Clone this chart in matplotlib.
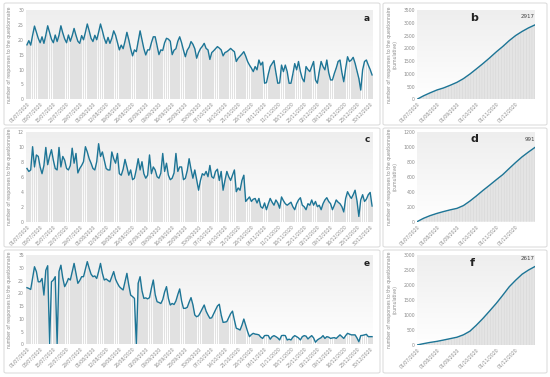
import matplotlib
matplotlib.use("Agg")
import matplotlib.pyplot as plt
import matplotlib.dates as mdates
from matplotlib.colors import LinearSegmentedColormap
from matplotlib.patches import FancyBboxPatch
import numpy as np
import pandas as pd

# daily responses, 01/07/2020 -> 31/12/2020 (one row per week)
resp_a = [
    18.3, 19.7, 18.2, 21.5, 24.6, 22.5, 20.5,
    19.0, 21.0, 18.8, 21.5, 24.7, 22.5, 20.2,
    19.0, 21.6, 19.4, 21.5, 24.7, 22.3, 20.3,
    19.0, 21.6, 19.5, 21.4, 23.8, 21.5, 19.5,
    18.8, 21.4, 20.0, 22.5, 25.3, 23.0, 20.5,
    19.4, 21.5, 20.0, 22.5, 25.3, 23.0, 20.5,
    18.8, 20.8, 18.8, 20.5, 23.0, 21.5, 19.0,
    16.6, 18.2, 17.0, 19.5, 22.5, 20.0, 17.0,
    14.6, 16.6, 16.0, 19.5, 23.0, 20.0, 17.0,
    14.9, 16.6, 16.6, 19.0, 21.0, 21.0, 18.0,
    15.0, 16.6, 16.4, 19.0, 20.5, 20.2, 19.5,
    15.0, 16.5, 17.0, 19.5, 21.0, 19.0, 16.5,
    14.3, 16.5, 17.5, 19.4, 18.5, 17.0, 13.8,
    15.7, 17.0, 17.8, 18.8, 17.1, 16.6, 13.4,
    15.7, 16.3, 17.0, 17.7, 17.2, 16.6, 14.6,
    15.7, 16.0, 16.5, 17.1, 16.5, 16.0, 12.7,
    13.8, 14.5, 15.2, 16.0, 14.5, 12.7, 11.5,
    10.5, 9.3, 11.0, 9.9, 13.2, 11.5, 12.5,
    5.4, 5.6, 8.5, 11.0, 12.0, 13.0, 9.0,
    5.4, 5.5, 11.5, 9.3, 11.5, 9.3, 5.4,
    5.4, 8.5, 12.0, 9.9, 12.7, 9.3, 7.0,
    5.9, 11.0, 10.0, 9.3, 11.0, 12.7, 6.5,
    5.4, 9.3, 12.7, 11.0, 9.9, 13.2, 9.0,
    6.5, 6.5, 8.7, 10.5, 12.7, 13.2, 9.0,
    5.9, 10.4, 14.3, 12.7, 13.2, 14.1, 12.1,
    9.5, 7.0, 3.1, 9.9, 12.7, 13.2, 11.5,
    10.0, 8.2,
]

resp_c = [
    7.1, 6.7, 6.9, 10.0, 7.3, 8.9, 8.7,
    7.3, 6.4, 7.5, 9.9, 7.6, 8.7, 9.6,
    8.2, 7.1, 6.9, 9.9, 7.3, 8.7, 8.2,
    7.1, 6.9, 7.5, 9.8, 7.8, 9.1, 6.5,
    7.1, 7.5, 8.0, 10.0, 9.3, 8.4, 7.8,
    7.1, 6.9, 8.0, 10.4, 8.7, 9.3, 8.2,
    7.1, 6.9, 6.9, 9.3, 8.4, 7.8, 9.1,
    6.4, 6.2, 7.0, 8.3, 7.3, 6.2, 6.9,
    5.6, 5.8, 7.0, 8.4, 6.9, 8.0, 6.4,
    5.8, 6.2, 8.9, 6.4, 7.3, 6.9, 6.0,
    5.8, 6.5, 9.1, 6.7, 7.8, 6.2, 5.6,
    5.8, 6.5, 9.1, 6.7, 7.3, 7.3, 5.6,
    5.8, 6.8, 8.4, 7.0, 5.8, 6.9, 5.6,
    4.2, 5.5, 6.4, 6.2, 6.7, 6.0, 7.5,
    6.0, 5.8, 6.7, 7.0, 5.5, 6.7, 4.2,
    5.5, 6.7, 6.0, 5.5, 6.2, 6.9, 4.0,
    4.5, 4.2, 5.5, 6.2, 2.7, 3.0, 3.3,
    2.7, 3.0, 3.1, 2.5, 3.1, 2.0, 1.8,
    2.5, 1.6, 2.4, 3.1, 2.6, 2.2, 2.9,
    2.5, 1.8, 3.3, 2.8, 2.4, 2.2, 2.4,
    2.6, 2.0, 1.6, 2.4, 2.9, 3.2, 2.2,
    2.0, 1.6, 2.4, 2.2, 2.9, 2.2, 2.7,
    2.0, 2.2, 1.6, 2.4, 2.9, 3.2, 2.7,
    2.4, 1.6, 2.2, 2.9, 2.6, 2.4, 2.0,
    1.3, 3.1, 4.0, 3.5, 3.1, 3.6, 4.2,
    2.8, 0.7, 2.9, 3.6, 2.7, 3.0, 3.6,
    3.9, 2.1,
]

resp_e = [
    22.2, 21.9, 21.5, 26.0, 30.4, 28.5, 24.5,
    24.5, 25.8, 19.3, 29.0, 30.8, 0.0, 24.5,
    25.2, 26.5, 0.0, 28.5, 31.0, 26.0, 22.6,
    24.0, 25.8, 25.2, 28.5, 31.7, 27.8, 23.9,
    25.0, 26.5, 26.5, 29.5, 32.4, 29.8, 27.5,
    26.5, 26.8, 25.8, 28.5, 31.7, 27.8, 25.2,
    25.6, 25.0, 24.5, 26.5, 28.5, 25.5, 23.9,
    22.6, 21.9, 21.3, 24.5, 27.8, 23.2, 19.3,
    18.7, 18.0, 0.0, 24.0, 26.5, 21.0, 18.0,
    18.2, 17.8, 18.3, 22.0, 25.2, 19.5, 16.7,
    16.4, 16.0, 17.5, 20.5, 22.6, 18.0, 15.4,
    16.0, 15.6, 17.0, 19.5, 21.7, 17.0, 14.1,
    14.1, 14.5, 16.5, 18.3, 15.5, 11.5, 10.8,
    11.2, 12.5, 14.0, 15.4, 13.0, 11.5, 10.2,
    10.4, 12.0, 13.5, 15.0, 15.7, 11.5, 8.6,
    8.7, 8.9, 10.5, 12.0, 13.0, 9.5, 6.3,
    6.0, 5.6, 7.5, 9.9, 7.5, 5.0, 3.0,
    3.8, 4.3, 4.0, 3.9, 3.7, 2.8, 2.3,
    3.4, 3.5, 3.4, 2.0, 3.0, 3.4, 3.0,
    2.5, 1.7, 3.4, 3.5, 3.4, 1.7, 2.0,
    1.7, 2.8, 3.4, 3.0, 2.5, 1.7, 3.0,
    3.4, 3.2, 2.1, 2.8, 3.4, 2.5, 0.8,
    1.7, 2.2, 2.6, 3.4, 2.3, 3.0, 2.8,
    2.3, 2.5, 2.6, 2.3, 3.0, 3.7, 3.0,
    2.3, 3.4, 4.3, 4.0, 3.7, 3.7, 3.7,
    2.5, 1.0, 3.4, 3.5, 3.7, 3.9, 3.0,
    3.0, 3.0,
]

# cumulative responses, read at ~10 day steps
cum_dates = ['2020-07-01', '2020-07-11', '2020-07-21', '2020-08-01', '2020-08-11',
             '2020-08-21', '2020-09-01', '2020-09-11', '2020-09-21', '2020-10-01',
             '2020-10-11', '2020-10-21', '2020-11-01', '2020-11-11', '2020-11-21',
             '2020-12-01', '2020-12-11', '2020-12-21', '2020-12-31']
cum_b = [0, 135, 250, 366, 444, 545, 666, 810, 990, 1190,
         1395, 1610, 1860, 2070, 2300, 2500, 2660, 2800, 2917]
cum_d = [0, 45, 80, 111, 135, 157, 178, 215, 275, 343,
         415, 483, 560, 628, 710, 790, 865, 930, 991]
cum_f = [0, 45, 85, 122, 165, 210, 260, 340, 460, 660,
         880, 1120, 1390, 1660, 1940, 2160, 2360, 2500, 2617]

LINE = '#1d7596'
BAR = '#e1e1e1'
TXT = '#8a8a8a'
W, H = 550, 377

days = pd.date_range('2020-07-01', periods=len(resp_a))
cdays = pd.to_datetime(cum_dates)
grad_cmap = LinearSegmentedColormap.from_list('g', ['#eeeeee', '#ffffff'])

fig = plt.figure(figsize=(5.5, 3.77), dpi=100)
fig.patch.set_facecolor('white')
plt.rcParams['hatch.color'] = '#d2d2d2'
plt.rcParams['hatch.linewidth'] = 0.3


def pos(x0, y0, x1, y1):
    return [x0 / W, 1 - y1 / H, (x1 - x0) / W, (y1 - y0) / H]


def card(x0, y0, x1, y1):
    p = FancyBboxPatch((x0 / W, 1 - y1 / H), (x1 - x0) / W, (y1 - y0) / H,
                       boxstyle='round,pad=0,rounding_size=0.004',
                       transform=fig.transFigure, facecolor='white',
                       edgecolor='#dddddd', linewidth=0.8, zorder=0)
    fig.add_artist(p)


def style(ax):
    ax.imshow(np.linspace(0, 1, 100).reshape(-1, 1), cmap=grad_cmap, aspect='auto',
              extent=[0, 1, 0, 1], transform=ax.transAxes, zorder=0)
    for s in ax.spines.values():
        s.set_visible(False)
    ax.tick_params(length=0, labelsize=3.3, colors=TXT, pad=1.5)
    for lab in ax.get_xticklabels():
        lab.set_rotation(45)
        lab.set_ha('right')
        lab.set_rotation_mode('anchor')


def daily(box, vals, top, step, letter):
    ax = fig.add_axes(pos(*box))
    ax.bar(days, vals, width=0.8, color=BAR, linewidth=0, zorder=1)
    ax.plot(days, vals, color=LINE, lw=1.0, zorder=2)
    ax.set_xlim(days[0] - pd.Timedelta(hours=12), days[-1] + pd.Timedelta(hours=12))
    ax.set_ylim(0, top)
    ax.set_yticks(np.arange(0, top + 0.1, step))
    ax.set_xticks(pd.date_range('2020-07-01', '2020-12-31', freq='7D'))
    ax.xaxis.set_major_formatter(mdates.DateFormatter('%d/%m/%Y'))
    ax.set_ylabel('number of responses to the questionnaire', fontsize=3.3,
                  color=TXT, labelpad=4)
    style(ax)
    ax.text(0.99, 0.96, letter, transform=ax.transAxes, ha='right', va='top',
            fontsize=6.5, fontweight='bold', color='#222222')


def cumul(box, vals, top, step, letter):
    ax = fig.add_axes(pos(*box))
    ax.fill_between(cdays, vals, facecolor='#e4e4e4', hatch='||||||',
                    linewidth=0, zorder=1)
    ax.plot(cdays, vals, color=LINE, lw=1.0, zorder=2)
    ax.set_xlim(cdays[0], cdays[-1])
    ax.set_ylim(0, top)
    ax.set_yticks(np.arange(0, top + 0.1, step))
    ax.set_xticks(pd.date_range('2020-07-01', '2020-12-01', freq='MS'))
    ax.xaxis.set_major_formatter(mdates.DateFormatter('%d/%m/%Y'))
    ax.set_ylabel('number of responses to the questionnaire\n(cumulative)',
                  fontsize=3.3, color=TXT, labelpad=4)
    style(ax)
    ax.annotate(str(vals[-1]), (cdays[-1], vals[-1]), xytext=(0, 4),
                textcoords='offset points', ha='right', va='bottom',
                fontsize=4, color='#444444')
    ax.text(0.45, 0.97, letter, transform=ax.transAxes, ha='left', va='top',
            fontsize=8, fontweight='bold', color='#222222')


# panel cards
for y0, y1 in [(3, 125), (128, 247), (250, 373)]:
    card(4, y0, 380, y1)
    card(383, y0, 547, y1)

daily((26, 10, 373, 99.3), resp_a, 30, 5, 'a')
cumul((417, 10, 535, 99.3), cum_b, 3500, 500, 'b')
daily((26, 131.7, 373, 221.7), resp_c, 12, 2, 'c')
cumul((417, 131.7, 535, 221.7), cum_d, 1200, 200, 'd')
daily((26, 255, 373, 344.3), resp_e, 35, 5, 'e')
cumul((417, 255, 535, 345), cum_f, 3000, 500, 'f')

fig.savefig('out.png', dpi=100)
